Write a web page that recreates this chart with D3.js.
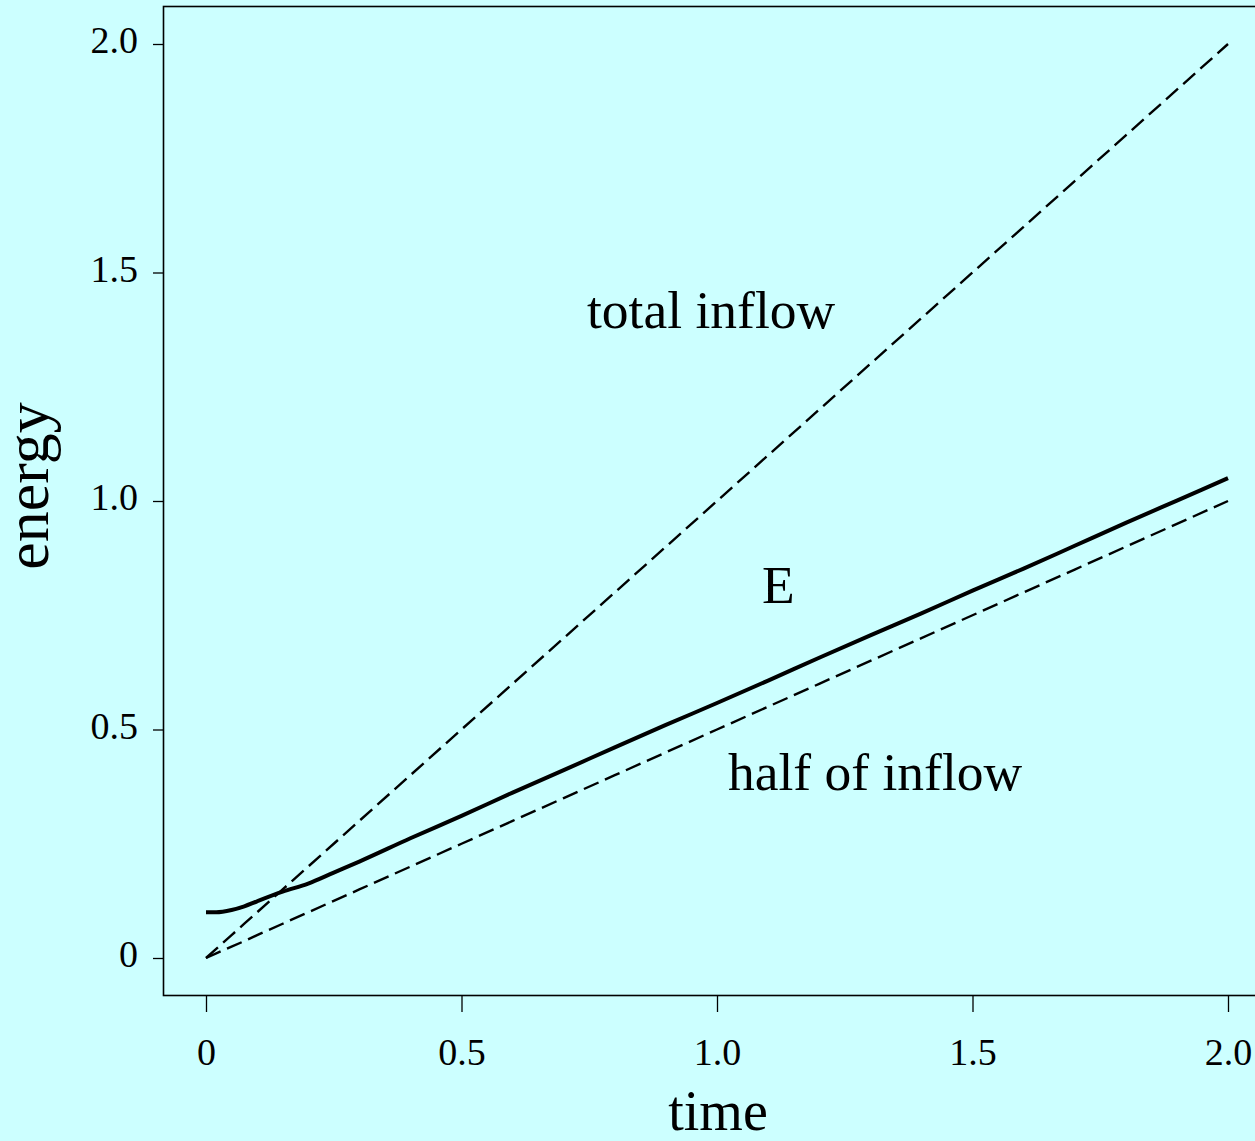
<!DOCTYPE html>
<html>
<head>
<meta charset="utf-8">
<script src="https://cdn.jsdelivr.net/npm/d3@7"></script>
<style>
  html, body { margin: 0; padding: 0; background: #ccffff; overflow: hidden; }
  svg { display: block; }
</style>
</head>
<body>
<svg id="chart" width="1255" height="1141"></svg>
<script>
// ---- data ----
const timeGrid = [0, 0.02, 0.05, 0.075, 0.1, 0.15, 0.2, 0.25, 0.3, 0.4, 0.5, 0.6, 0.7, 0.8, 0.9, 1.0, 1.1, 1.2, 1.3, 1.4, 1.5, 1.6, 1.7, 1.8, 1.9, 2.0];
const totalInflow = [0, 0.02, 0.05, 0.075, 0.1, 0.15, 0.2, 0.25, 0.3, 0.4, 0.5, 0.6, 0.7, 0.8, 0.9, 1.0, 1.1, 1.2, 1.3, 1.4, 1.5, 1.6, 1.7, 1.8, 1.9, 2.0];
const halfInflow = [0, 0.01, 0.025, 0.037, 0.05, 0.075, 0.1, 0.125, 0.15, 0.2, 0.25, 0.3, 0.35, 0.4, 0.45, 0.5, 0.55, 0.6, 0.65, 0.7, 0.75, 0.8, 0.85, 0.9, 0.95, 1.0];
const energyE = [0.100, 0.100, 0.105, 0.113, 0.124, 0.145, 0.163, 0.187, 0.211, 0.262, 0.311, 0.362, 0.411, 0.461, 0.510, 0.558, 0.607, 0.657, 0.706, 0.754, 0.804, 0.852, 0.902, 0.952, 1.001, 1.050];
const xTickValues = [0, 0.5, 1.0, 1.5, 2.0];
const xTickLabels = ["0", "0.5", "1.0", "1.5", "2.0"];
const yTickValues = [0, 0.5, 1.0, 1.5, 2.0];
const yTickLabels = ["0", "0.5", "1.0", "1.5", "2.0"];
const annotations = [
  { text: "total inflow", t: 0.7456, v: 1.3785 },
  { text: "E", t: 1.088, v: 0.7768 },
  { text: "half of inflow", t: 1.0215, v: 0.3676 }
];
const xTitle = "time";
const yTitle = "energy";

// ---- layout ----
const FONT = "'Liberation Serif', 'Times New Roman', serif";
const svg = d3.select("#chart");
const x = d3.scaleLinear().domain([0, 2]).range([206, 1228]);
const y = d3.scaleLinear().domain([0, 2]).range([958, 44]);

svg.append("rect").attr("x", 0).attr("y", 0).attr("width", 1255).attr("height", 1141).attr("fill", "#ccffff");

// plot box
svg.append("rect")
  .attr("x", 163.5).attr("y", 6.5)
  .attr("width", 1110).attr("height", 989)
  .attr("fill", "none").attr("stroke", "#000").attr("stroke-width", 1.6);

// x axis
const gx = svg.append("g").attr("transform", "translate(0,996)")
  .call(d3.axisBottom(x).tickValues(xTickValues)
    .tickFormat((d, i) => xTickLabels[i]).tickSize(16).tickSizeOuter(0));
gx.select(".domain").remove();
gx.selectAll(".tick line").attr("stroke", "#000").attr("stroke-width", 1.3);
gx.selectAll(".tick text").attr("y", 69).attr("dy", 0)
  .attr("font-family", FONT).attr("font-size", 38).attr("fill", "#000");

// y axis
const gy = svg.append("g").attr("transform", "translate(163,0)")
  .call(d3.axisLeft(y).tickValues(yTickValues)
    .tickFormat((d, i) => yTickLabels[i]).tickSize(10).tickSizeOuter(0));
gy.select(".domain").remove();
gy.selectAll(".tick line").attr("stroke", "#000").attr("stroke-width", 1.3);
gy.selectAll(".tick text").attr("x", -25).attr("dy", 0).attr("y", 8.5)
  .attr("font-family", FONT).attr("font-size", 38).attr("fill", "#000");

// lines
const line = d3.line().x(d => x(d[0])).y(d => y(d[1]));
const smooth = d3.line().x(d => x(d[0])).y(d => y(d[1])).curve(d3.curveMonotoneX);
const zip = (a, b) => a.map((v, i) => [v, b[i]]);

svg.append("path").datum(zip(timeGrid, totalInflow))
  .attr("d", line).attr("fill", "none").attr("stroke", "#000")
  .attr("stroke-width", 2.4).attr("stroke-dasharray", "16,7");
svg.append("path").datum(zip(timeGrid, halfInflow))
  .attr("d", line).attr("fill", "none").attr("stroke", "#000")
  .attr("stroke-width", 2.4).attr("stroke-dasharray", "16,7");
svg.append("path").datum(zip(timeGrid, energyE))
  .attr("d", smooth).attr("fill", "none").attr("stroke", "#000")
  .attr("stroke-width", 4).attr("stroke-linejoin", "round");

// annotations
svg.selectAll("text.ann").data(annotations).enter().append("text")
  .attr("class", "ann")
  .attr("x", d => x(d.t)).attr("y", d => y(d.v))
  .attr("font-family", FONT).attr("font-size", 53.5).attr("fill", "#000")
  .text(d => d.text);

// axis titles
svg.append("text").attr("x", 718).attr("y", 1130)
  .attr("text-anchor", "middle").attr("font-family", FONT).attr("font-size", 56)
  .attr("fill", "#000").text(xTitle);
svg.append("text").attr("transform", "translate(48,486) rotate(-90)")
  .attr("text-anchor", "middle").attr("font-family", FONT).attr("font-size", 62)
  .attr("fill", "#000").text(yTitle);
</script>
</body>
</html>
